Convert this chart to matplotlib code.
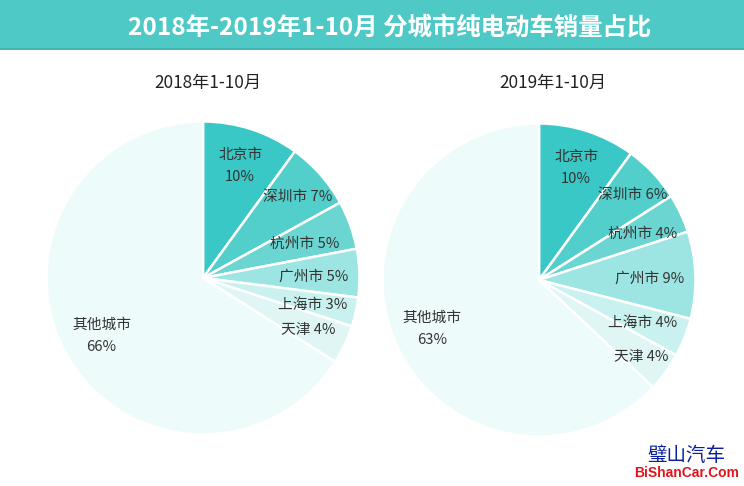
#!/usr/bin/env python3
"""City share of battery-electric car sales, 2018 vs 2019 pies."""

import numpy as np
import matplotlib
matplotlib.use("Agg")
import matplotlib.pyplot as plt
from matplotlib.patches import Rectangle

plt.rcParams["font.family"] = ["Noto Sans CJK SC", "DejaVu Sans"]

TITLE = "2018年-2019年1-10月 分城市纯电动车销量占比"
cities = ["北京市", "深圳市", "杭州市", "广州市", "上海市", "天津", "其他城市"]
values_2018 = [10, 7, 5, 5, 3, 4, 66]
values_2019 = [10, 6, 4, 9, 4, 4, 63]
colors = ["#39c8c5", "#52cecb", "#6bd5d2", "#9de5e2", "#c9f1ef", "#dff6f5", "#eefbfb"]
radial_2018 = [0.77, 0.81, 0.69, 0.705, 0.72, 0.745, 0.74]
radial_2019 = [0.77, 0.82, 0.73, 0.71, 0.71, 0.81, 0.745]

W, H = 744, 486
TEAL = "#4fc9c6"


def pie(ax, values, radial, cx, cy, radius, title, title_x):
    wedges, _ = ax.pie(values, colors=colors, startangle=90, counterclock=False,
                       center=(cx, H - cy), radius=radius,
                       wedgeprops={"edgecolor": "white", "linewidth": 1.8})
    for wedge, city, value, dist in zip(wedges, cities, values, radial):
        mid = np.deg2rad((wedge.theta1 + wedge.theta2) / 2)
        x = cx + radius * dist * np.cos(mid)
        y = H - cy + radius * dist * np.sin(mid) - 2.5
        # the two big slices get the value on its own line
        sep = "\n" if city == "其他城市" or city == "北京市" else " "
        ax.text(x, y, f"{city}{sep}{value}%", ha="center", va="center", fontsize=10.6,
                color="#333333", linespacing=1.75)
    ax.text(title_x, H - 83, title, ha="center", va="center", fontsize=12.4, color="#222222")


fig = plt.figure(figsize=(W / 100, H / 100), dpi=100)
ax = fig.add_axes([0, 0, 1, 1])

pie(ax, values_2018, radial_2018, 203, 278, 156.5, "2018年1-10月", 208)
pie(ax, values_2019, radial_2019, 539, 280, 156.5, "2019年1-10月", 553)
ax.set_xlim(0, W)
ax.set_ylim(0, H)
ax.set_aspect("auto")
ax.axis("off")

# header band
ax.add_patch(Rectangle((0, H - 49), W, 49, facecolor=TEAL, edgecolor="none"))
ax.add_patch(Rectangle((0, H - 50), W, 1.5, facecolor="#45b5b2", edgecolor="none"))
ax.text(390, H - 28, TITLE, ha="center", va="center", fontsize=17.6, fontweight="bold", color="white")

# site watermark
ax.text(686, H - 455, "璧山汽车", ha="center", va="center", fontsize=14, color="#0a1f9c")
ax.text(687, H - 473, "BiShanCar.Com", ha="center", va="center", fontsize=10, fontweight="bold",
        color="#e0141c", family=["Liberation Sans", "DejaVu Sans"])

fig.savefig("out.png", dpi=100)
